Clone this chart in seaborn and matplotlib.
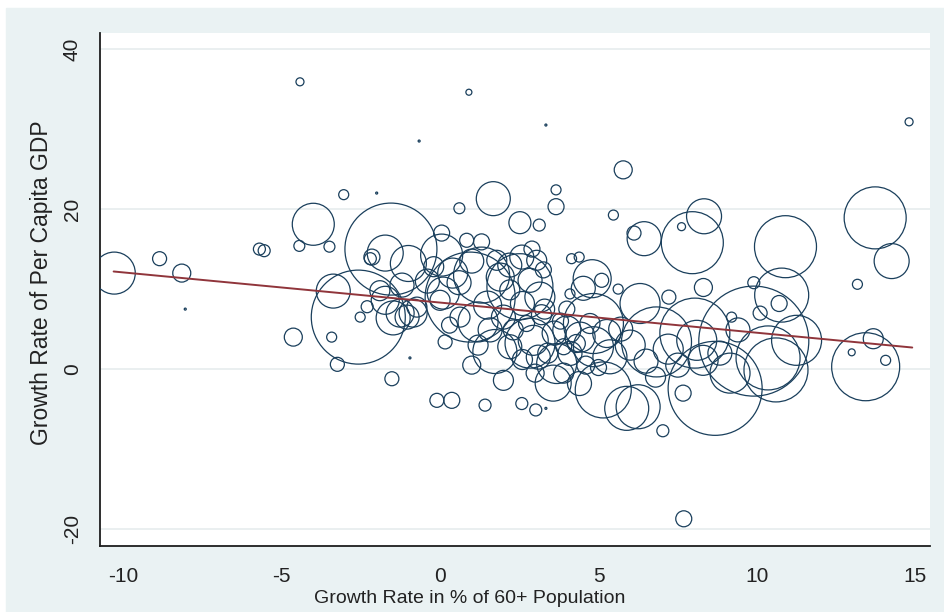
import numpy as np
import pandas as pd
import seaborn as sns
import matplotlib.pyplot as plt
from matplotlib.patches import Rectangle

# growth rate of the 60+ population share (%), per capita GDP growth (%), bubble weight
aging = [-4.42, 0.91, 3.34, -0.66, 14.8,
         -10.28, -8.85, -8.15, -8.04, -5.70, -5.55, -4.0, -4.44, -3.49, -3.04, -2.0,
         -3.37, -2.58, -1.55, -3.42, -4.63, -3.24, -2.52, -2.2, -2.3, -1.73, -1.0,
         -1.26, -1.04, -0.73, -1.48, -1.73, -0.85, -1.52, -0.95, -2.15, -0.1, 0.37,
         0.05, 0.84, 1.31, 0.61, 1.68, 2.52, 3.13, 3.66, 3.66, 0.05, 0.95, 1.31,
         2.52, 2.84, 1.2, 1.73, 1.0, 2.0, 0.16, 1.42, 2.58, 3.02, 3.34, 3.68, 3.57,
         3.05, 2.58, 2.2, 1.79, 2.84, 3.26, 0.1, 2.2, 2.0, 1.58, 2.31, 2.73, 3.15,
         2.94, 0.0, 0.63,
         4.15, 4.39, 4.80, 4.52, 5.1, 5.62, 4.1, 6.31, 7.22, 8.31, 5.78, 5.47, 6.44,
         6.12, 7.96, 8.33, 7.62, 10.9, 13.73, 14.25, 13.17, 13.43, 13.67, 14.06,
         12.99, 10.78, 11.25, 10.6, 4.42, 4.84, 4.1, 5.26, 5.36, 4.0, 4.73, 4.84,
         5.15, 5.89, 6.25, 8.68, 7.03, 7.69, 9.2, 9.9, 10.7, 10.1, 9.9, 7.67, 8.3,
         8.83, 9.15, 8.1, 9.4, 8.04, 6.83, 10.35, 6.0, 6.5, 5.7, 7.2, 7.5, 6.8,
         3.9, 4.3, 3.4, 4.6, 3.2, 3.8, 5.0, -1.9, -1.2,
         0.4, 1.0, 1.9, 2.6, 3.3, 1.5, 0.6, 2.2, 2.6, 3.1, 3.9, 4.4, 1.2, 0.3,
         3.6, 3.0, 4.0, -0.4, -0.2, 2.9]
gdp = [35.9, 34.6, 30.5, 28.5, 30.9,
       12.0, 13.8, 12.0, 7.5, 15.0, 14.8, 18.1, 15.4, 15.3, 21.8, 22.0,
       9.75, 6.5, 15.0, 4.0, 4.0, 0.6, 6.5, 13.8, 7.8, 14.5, 13.2,
       7.0, 6.5, 7.75, 6.4, 8.6, 7.0, -1.2, 1.4, 14.0, -3.9, -3.9,
       14.25, 16.1, 15.9, 20.1, 21.3, 18.3, 18.0, 20.3, 22.4, 17.0, 9.0, 11.75,
       10.3, 3.25, 5.9, 2.2, 0.5, -1.4, 3.4, -4.5, -4.3, -5.1, -4.9, 0.7, -1.75,
       13.6, 14.0, 13.0, 13.6, 11.1, 12.4, 9.5, 9.9, 6.5, 4.9, 4.9, 5.7, 9.0,
       3.6, 8.6, 6.5,
       13.8, 14.0, 11.3, 10.1, 11.1, 10.0, 9.4, 8.2, 9.0, 10.2, 24.9, 19.25, 16.3,
       17.0, 15.8, 19.1, 17.8, 15.3, 18.9, 13.5, 10.6, 0.3, 3.8, 1.1,
       2.1, 9.25, 3.6, -0.1, 4.0, 2.8, 1.96, 4.45, 1.54, 4.9, 5.7, 5.7,
       -2.6, -4.9, -4.7, -2.4, -7.7, -18.7, 6.5, 10.8, 8.2, 7.0, 3.5, -3.0, 1.1,
       2.0, -0.5, 3.6, 4.9, 4.5, 3.4, 1.4, 3.0, 1.0, 5.0, 2.5, 0.5, -1.0,
       2.8, 3.2, 2.0, 0.5, 6.8, 6.0, 0.2, 9.8, 10.5,
       12.0, 13.5, 11.5, 8.2, 7.5, 8.0, 10.8, 2.8, 1.2, 1.5, -0.5, -1.8, 3.0, 5.5,
       4.5, -0.5, 7.5, 11.0, 12.8, 15.0]
weight = [16, 9, 1, 1, 16,
          441, 49, 81, 1, 36, 36, 441, 30, 30, 25, 1,
          289, 2209, 2116, 25, 81, 49, 25, 36, 36, 324, 324,
          196, 144, 100, 289, 196, 196, 49, 1, 64, 49, 64,
          441, 49, 64, 30, 289, 121, 36, 64, 25, 64, 2025, 784,
          1089, 625, 400, 484, 81, 100, 49, 36, 36, 36, 1, 400, 324,
          100, 144, 144, 100, 144, 64, 256, 100, 144, 144, 100, 64, 225,
          225, 100, 100,
          25, 25, 361, 144, 49, 25, 25, 400, 49, 81, 81, 25, 289,
          49, 961, 306, 16, 961, 961, 306, 25, 1156, 100, 25,
          12, 729, 625, 1024, 225, 400, 144, 196, 289, 196, 100, 900,
          784, 484, 484, 2209, 36, 64, 25, 36, 64, 49, 3025, 64, 225,
          144, 400, 400, 144, 1225, 1225, 1024, 225, 144, 144, 225, 144, 100,
          64, 81, 100, 81, 100, 64, 64, 100, 144,
          225, 144, 196, 144, 100, 196, 144, 144, 100, 144, 100, 144, 100, 64,
          144, 81, 64, 144, 100, 64]

# fitted line end points
fit_x = [-10.3, 14.9]
fit_y = [12.2, 2.7]

df = pd.DataFrame({'aging': aging, 'gdp': gdp, 'weight': weight})

sns.set_style('white')
plt.rcParams['font.family'] = ['Liberation Sans', 'DejaVu Sans']
plt.rcParams['axes.unicode_minus'] = False

fig = plt.figure(figsize=(9.45, 6.12), dpi=100)
fig.patch.set_facecolor('white')
fig.patches.append(Rectangle((6 / 945, 0), 939 / 945, 604 / 612,
                             transform=fig.transFigure, color='#eaf2f3', zorder=-1))

ax = fig.add_axes([100 / 945, 66 / 612, 830 / 945, 513 / 612])
ax.set_facecolor('white')

wmax = max(weight)
sns.scatterplot(data=df, x='aging', y='gdp', size='weight',
                size_norm=(0, wmax), sizes=(0, (2 * 0.72) ** 2 * wmax),
                facecolors='none', edgecolor='#1a3f5c', linewidth=0.9,
                legend=False, ax=ax, zorder=3)
sns.lineplot(x=fit_x, y=fit_y, color='#90353b', linewidth=1.4, ax=ax, zorder=4)

ax.set_xlim(-10.73, 15.46)
ax.set_ylim(-22.1, 42.0)
ax.set_xticks([-10, -5, 0, 5, 10, 15])
ax.set_yticks([-20, 0, 20, 40])
ax.grid(axis='y', color='#e8eeef', linewidth=1.3)
ax.grid(axis='x', visible=False)
ax.set_axisbelow(True)

for side in ['top', 'right']:
    ax.spines[side].set_visible(False)
for side in ['left', 'bottom']:
    ax.spines[side].set_color('#1e1e1e')
    ax.spines[side].set_linewidth(1.3)

ax.tick_params(axis='both', direction='out', length=6, width=1.2,
               colors='#1e1e1e', labelsize=15, labelcolor='#222222')
ax.tick_params(axis='x', pad=9)
ax.tick_params(axis='y', pad=7, labelrotation=90)
for lbl in ax.get_yticklabels():
    lbl.set_va('center')

ax.set_xlabel('Growth Rate in % of 60+ Population', fontsize=14, color='#222222')
ax.set_ylabel('Growth Rate of Per Capita GDP', fontsize=16.5, color='#222222')
ax.xaxis.set_label_coords(0.446, -0.086)
ax.yaxis.set_label_coords(-0.057, 0.513)

fig.savefig('out.png', dpi=100, facecolor=fig.get_facecolor())
